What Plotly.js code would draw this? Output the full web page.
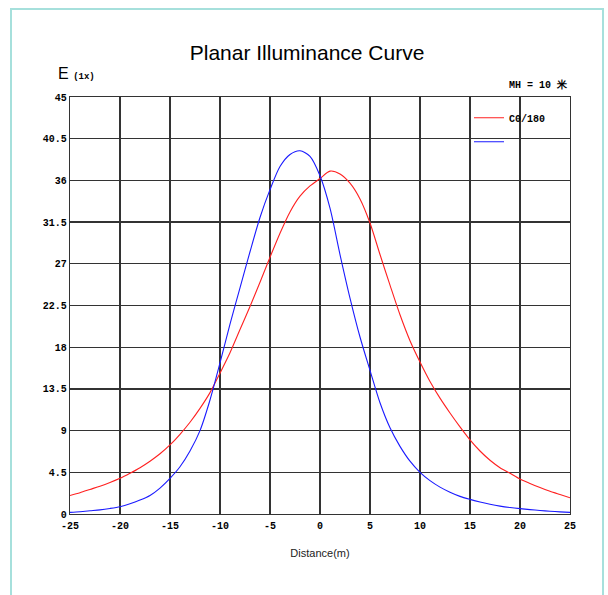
<!DOCTYPE html>
<html><head><meta charset="utf-8">
<script src="https://cdn.plot.ly/plotly-3.0.1.min.js"></script>
<style>
html,body{margin:0;padding:0;background:#fff;}
#chart{position:absolute;left:0;top:0;width:608px;height:595px;}
#frame{position:absolute;left:10px;top:8px;width:590px;height:600px;border-left:2px solid #a6e0dc;border-top:2px solid #a6e0dc;border-right:2px solid #a6e0dc;pointer-events:none;}
</style></head>
<body>
<div id="chart"></div>
<div id="frame"></div>
<script>
const distance = [-25,-24,-23,-22,-21,-20,-19,-18,-17,-16,-15,-14,-13,-12,-11,-10,-9,-8,-7,-6,-5,-4,-3,-2,-1,0,1,2,3,4,5,6,7,8,9,10,11,12,13,14,15,16,17,18,19,20,21,22,23,24,25];
const c0_180 = [2.0,2.3,2.65,3.0,3.4,3.85,4.4,5.0,5.7,6.5,7.45,8.6,9.9,11.4,13.1,15.2,17.4,19.9,22.4,25.0,27.7,30.3,32.6,34.3,35.4,36.2,37.0,36.7,35.7,34.0,31.4,28.0,24.7,21.5,18.7,16.4,14.3,12.5,10.9,9.4,8.0,6.8,5.8,5.0,4.4,3.78,3.3,2.85,2.45,2.1,1.75];
const c90_270 = [0.18,0.25,0.35,0.45,0.6,0.79,1.1,1.5,2.0,2.8,3.85,5.1,6.8,9.0,12.3,16.3,20.5,24.4,28.3,32.0,35.0,37.5,38.8,39.2,38.6,36.5,33.0,28.0,23.3,19.1,15.5,12.0,9.3,7.3,5.7,4.5,3.6,2.9,2.35,1.9,1.58,1.3,1.05,0.85,0.7,0.58,0.47,0.38,0.3,0.23,0.17];
const yTicks = [0,4.5,9,13.5,18,22.5,27,31.5,36,40.5,45];
const yTickText = ['0','4.5','9','13.5','18','22.5','27','31.5','36','40.5','45'];
const xTicks = [-25,-20,-15,-10,-5,0,5,10,15,20,25];
const seriesNames = ['C0/180',' '];

const mono = {family:'Liberation Mono, Courier New, monospace', size:10, color:'#000', weight:'bold'};
const traces = [
  {x:distance, y:c0_180, name:seriesNames[0], legendgroup:'a', type:'scatter', mode:'lines', line:{color:'#ff2020', width:1.1, shape:'spline', smoothing:0.8}},
  {x:distance, y:c90_270, name:seriesNames[1], legendgroup:'b', type:'scatter', mode:'lines', line:{color:'#1a1aff', width:1.1, shape:'spline', smoothing:0.8}}
];
const axisCommon = {showgrid:true, gridcolor:'#333', gridwidth:1.3, showline:true, linecolor:'#333', linewidth:1.3, mirror:true, zeroline:false, ticks:'', tickfont:mono, fixedrange:true};
const layout = {
  width:608, height:595,
  margin:{l:70, r:38, t:97, b:81},
  paper_bgcolor:'#fff', plot_bgcolor:'#fff',
  showlegend:true,
  legend:{x:0.798, y:0.985, xanchor:'left', yanchor:'top', bgcolor:'rgba(0,0,0,0)', font:mono, tracegroupgap:5, itemwidth:30},
  title:{text:'Planar Illuminance Curve', x:0.505, xanchor:'center', y:0.912, yanchor:'middle', font:{family:'Liberation Sans, Arial, sans-serif', size:21, color:'#000'}},
  xaxis:Object.assign({}, axisCommon, {range:[-25,25], tickvals:xTicks, ticktext:xTicks.map(String), ticklabelstandoff:2,
    title:{text:'Distance(m)', standoff:18, font:{family:'Liberation Sans, Arial, sans-serif', size:11, color:'#222'}}}),
  yaxis:Object.assign({}, axisCommon, {range:[0,45], tickvals:yTicks, ticktext:yTickText}),
  annotations:[
    {xref:'paper', yref:'paper', x:-0.028, y:1.03, xanchor:'left', yanchor:'bottom', showarrow:false,
     text:'<span style="font-family:Liberation Sans, Arial, sans-serif;font-size:16px;font-weight:normal">E </span><span style="font-size:9px">(1x)</span>', font:mono},
    {xref:'paper', yref:'paper', x:1.0, y:1.01, xanchor:'right', yanchor:'bottom', showarrow:false,
     text:'MH = 10 米', font:{family:'Liberation Mono, Courier New, monospace', size:10, color:'#000', weight:'bold'}}
  ]
};
Plotly.newPlot('chart', traces, layout, {displayModeBar:false, staticPlot:true});
</script>
</body></html>
